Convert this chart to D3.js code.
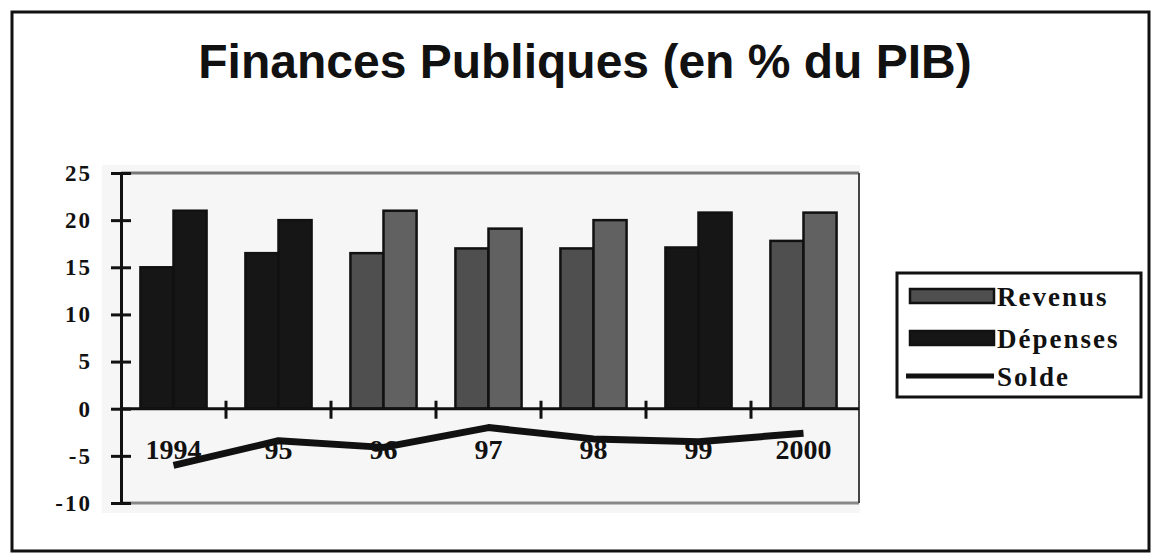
<html>
<head>
<script src="https://d3js.org/d3.v7.min.js"></script>
<style>
  body { margin: 0; background: white; }
  svg text { fill: #111; }
</style>
</head>
<body>
<svg width="1155" height="554"></svg>
<script>
// data
const years = ["1994", "95", "96", "97", "98", "99", "2000"]
const series = ["Revenus", "Dépenses"]
const revenus = [15.0, 16.5, 16.5, 17.0, 17.0, 17.1, 17.8]
const depenses = [21.0, 20.0, 21.0, 19.1, 20.0, 20.8, 20.8]
const solde = [-6.0, -3.4, -4.1, -2.0, -3.2, -3.5, -2.6]
const yTicks = [-10, -5, 0, 5, 10, 15, 20, 25]

// the scan printed some groups solid black
const blackGroups = ["1994", "95", "99"]

const svg = d3.select("svg")

// outer frame
svg.append("rect")
  .attr("x", 12).attr("y", 12)
  .attr("width", 1137).attr("height", 539)
  .attr("fill", "white")
  .attr("stroke", "#111").attr("stroke-width", 3)

svg.append("text")
  .attr("x", 585).attr("y", 78)
  .attr("text-anchor", "middle")
  .style("font-family", "'Liberation Sans', Arial, sans-serif")
  .style("font-weight", "bold")
  .style("font-size", "48px")
  .text("Finances Publiques (en % du PIB)")

const plotL = 121, plotR = 856, plotT = 173, plotB = 503

var x0 = d3.scaleBand().domain(years).range([plotL, plotR]).paddingInner(0.37).paddingOuter(0.185)
var x1 = d3.scaleBand().domain(series).range([0, x0.bandwidth()])
var y = d3.scaleLinear().domain([-10, 25]).range([plotB, plotT])

// plot area
svg.append("rect")
  .attr("x", 102).attr("y", 165)
  .attr("width", 758).attr("height", 348)
  .attr("fill", "#f6f6f6")
svg.append("line")
  .attr("x1", plotL).attr("x2", plotR + 3).attr("y1", y(25)).attr("y2", y(25))
  .attr("stroke", "#777").attr("stroke-width", 3)
svg.append("line")
  .attr("x1", plotL).attr("x2", plotR + 3).attr("y1", y(-10)).attr("y2", y(-10))
  .attr("stroke", "#888").attr("stroke-width", 3)
svg.append("line")
  .attr("x1", plotR + 3).attr("x2", plotR + 3).attr("y1", y(25)).attr("y2", y(-10))
  .attr("stroke", "#444").attr("stroke-width", 2)

const rows = years.map((d, i) => ({year: d, vals: [revenus[i], depenses[i]]}))

const groups = svg.append("g").selectAll("g").data(rows).enter().append("g")
  .attr("transform", d => "translate(" + x0(d.year) + ",0)")

groups.selectAll("rect")
  .data(d => d.vals.map((v, j) => ({year: d.year, key: series[j], v: v})))
  .enter().append("rect")
  .attr("x", d => x1(d.key))
  .attr("width", x1.bandwidth())
  .attr("y", d => y(d.v))
  .attr("height", d => y(0) - y(d.v))
  .attr("fill", d => blackGroups.includes(d.year) ? "#161616" : (d.key == "Revenus" ? "#4f4f4f" : "#616161"))
  .attr("stroke", "#111")
  .attr("stroke-width", 2.5)

// zero line with category separators
svg.append("line")
  .attr("x1", plotL).attr("x2", plotR + 3).attr("y1", y(0)).attr("y2", y(0))
  .attr("stroke", "#111").attr("stroke-width", 3)
svg.append("g").selectAll("line").data(years.slice(1)).enter().append("line")
  .attr("x1", d => x0(d) - x0.step() * x0.paddingInner() / 2)
  .attr("x2", d => x0(d) - x0.step() * x0.paddingInner() / 2)
  .attr("y1", y(0) - 8).attr("y2", y(0) + 10)
  .attr("stroke", "#111").attr("stroke-width", 3)

// category labels sit inside the plot, under the zero line
svg.append("g").selectAll("text").data(years).enter().append("text")
  .attr("x", d => x0(d) + x0.bandwidth() / 2)
  .attr("y", y(-5) + 3)
  .attr("text-anchor", "middle")
  .style("font-family", "'Liberation Serif', 'Times New Roman', serif")
  .style("font-weight", "bold")
  .style("font-size", "28px")
  .text(d => d)

// solde line
var line = d3.line()
  .x((d, i) => x0(years[i]) + x0.bandwidth() / 2)
  .y(d => y(d))
svg.append("path")
  .datum(solde)
  .attr("d", line)
  .attr("fill", "none")
  .attr("stroke", "#111")
  .attr("stroke-width", 7)
  .attr("stroke-linejoin", "round")

// y axis
var yAxis = svg.append("g")
  .attr("transform", "translate(" + plotL + ",0)")
  .call(d3.axisLeft(y).tickValues(yTicks).tickSize(10).tickPadding(19).tickFormat(d => String(d)))
yAxis.select(".domain").attr("stroke", "#111").attr("stroke-width", 3)
yAxis.selectAll(".tick line").attr("x1", 10).attr("stroke", "#111").attr("stroke-width", 3)
yAxis.selectAll(".tick text")
  .style("font-family", "'Liberation Serif', 'Times New Roman', serif")
  .style("font-weight", "bold")
  .style("font-size", "23px")
  .style("letter-spacing", "2px")
  .attr("fill", "#111")

// legend
var lg = svg.append("g")
lg.append("rect")
  .attr("x", 897).attr("y", 273).attr("width", 244).attr("height", 124)
  .attr("fill", "white").attr("stroke", "#111").attr("stroke-width", 3)
const legendItems = ["Revenus", "Dépenses", "Solde"]
const legendY = [296, 338, 376]
lg.selectAll("rect.sw").data(legendItems.slice(0, 2)).enter().append("rect")
  .attr("class", "sw")
  .attr("x", 910).attr("width", 84)
  .attr("y", (d, i) => legendY[i] - 7).attr("height", 14)
  .attr("fill", (d, i) => i == 0 ? "#4f4f4f" : "#161616")
  .attr("stroke", "#111").attr("stroke-width", 2.5)
lg.append("line")
  .attr("x1", 906).attr("x2", 994).attr("y1", legendY[2]).attr("y2", legendY[2])
  .attr("stroke", "#111").attr("stroke-width", 5)
lg.selectAll("text").data(legendItems).enter().append("text")
  .attr("x", 997)
  .attr("y", (d, i) => legendY[i] + 10)
  .style("font-family", "'Liberation Serif', 'Times New Roman', serif")
  .style("font-weight", "bold")
  .style("font-size", "27px")
  .style("letter-spacing", "2px")
  .text(d => d)
</script>
</body>
</html>
